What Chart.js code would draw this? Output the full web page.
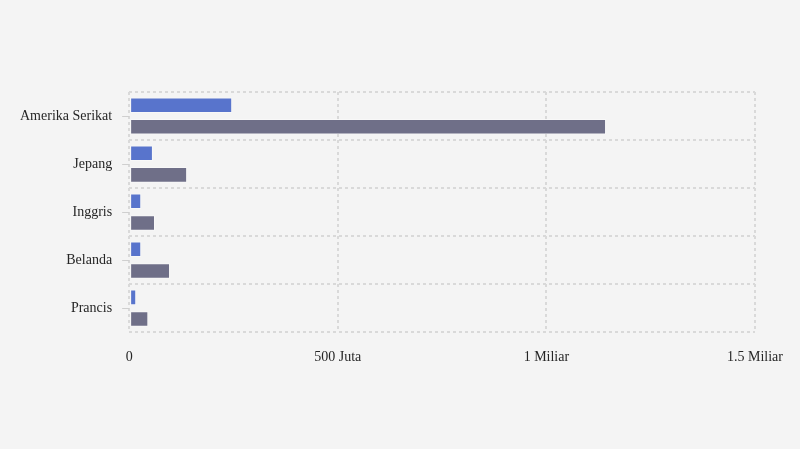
<!DOCTYPE html>
<html>
<head>
<meta charset="utf-8">
<script src="https://cdn.jsdelivr.net/npm/chart.js@4.4.0/dist/chart.umd.min.js"></script>
<style>
  html, body { margin: 0; padding: 0; background: #f4f4f4; }
  #wrap { width: 800px; height: 449px; position: relative; }
</style>
</head>
<body>
<div id="wrap"><canvas id="chart"></canvas></div>
<script>
// values, in units (1 Miliar = 1e9)
const categories = ["Amerika Serikat", "Jepang", "Inggris", "Belanda", "Prancis"];
const seriesA = [247e6, 57e6, 29e6, 29e6, 17e6];
const seriesB = [1143e6, 139e6, 62e6, 98e6, 46e6];
const xTicks = [0, 500e6, 1e9, 1.5e9];
const xTickLabels = ["0", "500 Juta", "1 Miliar", "1.5 Miliar"];

const gridColor = "#d9d9d9";
const textColor = "#262626";
const font = { family: "'Liberation Serif', serif", size: 14 };

// short tick marks at each category centre on the left edge
const catTicks = {
  id: "catTicks",
  afterDraw(chart) {
    const y = chart.scales.y;
    const ctx = chart.ctx;
    ctx.save();
    ctx.strokeStyle = "#cfcfcf";
    ctx.lineWidth = 1;
    y.ticks.forEach((t, i) => {
      const py = Math.round(y.getPixelForTick(i)) + 0.5;
      ctx.beginPath();
      ctx.moveTo(y.right - 7, py);
      ctx.lineTo(y.right, py);
      ctx.stroke();
    });
    ctx.restore();
  }
};

new Chart(document.getElementById("chart").getContext("2d"), {
  type: "bar",
  data: {
    labels: categories,
    datasets: [
      {
        data: seriesA,
        backgroundColor: "#5874cc",
        borderColor: "rgba(255,255,255,0.35)",
        borderWidth: 1
      },
      {
        data: seriesB,
        backgroundColor: "#6f6f88",
        borderColor: "rgba(255,255,255,0.35)",
        borderWidth: 1
      }
    ]
  },
  options: {
    indexAxis: "y",
    responsive: true,
    maintainAspectRatio: false,
    animation: false,
    categoryPercentage: 0.9,
    barPercentage: 0.72,
    layout: { padding: { top: 92, bottom: 66, left: 3, right: 45 } },
    plugins: {
      legend: { display: false },
      tooltip: { enabled: false }
    },
    scales: {
      x: {
        min: 0,
        max: 1.5e9,
        afterBuildTicks(scale) {
          scale.ticks = xTicks.map(v => ({ value: v }));
        },
        grid: { color: gridColor, lineWidth: 2, drawTicks: false },
        // border line itself hidden; its dash is what the grid lines use
        border: { display: false, dash: [3, 3] },
        ticks: {
          padding: 17,
          color: textColor,
          maxRotation: 0,
          font: font,
          callback: (v) => xTickLabels[xTicks.indexOf(v)]
        }
      },
      y: {
        grid: { color: gridColor, lineWidth: 2, drawTicks: false, offset: true },
        border: { display: false, dash: [3, 3] },
        ticks: {
          padding: 17,
          color: textColor,
          font: font
        }
      }
    },
    elements: { bar: { borderSkipped: false } }
  },
  plugins: [catTicks]
});
</script>
</body>
</html>
